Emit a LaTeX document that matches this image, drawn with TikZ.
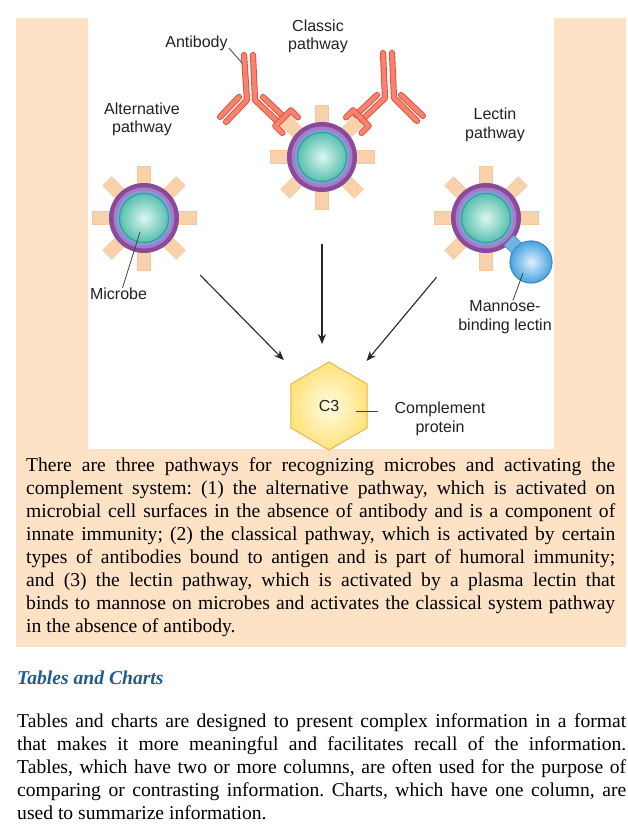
\documentclass[tikz,border=0pt]{standalone}
\usepackage{fontspec}
\setmainfont{Liberation Serif}
\setsansfont{Liberation Sans}
\usetikzlibrary{arrows.meta,shapes.geometric,calc}
\frenchspacing

\definecolor{peach}{HTML}{FDE2C5}
\definecolor{spikefill}{HTML}{F9D1AA}
\definecolor{spikeedge}{HTML}{F4C79E}
\definecolor{mpurple}{HTML}{8A4A9C}
\definecolor{mlilac}{HTML}{A77CC6}
\definecolor{mblue}{HTML}{7A9FDC}
\definecolor{tealin}{HTML}{DDF6F0}
\definecolor{tealout}{HTML}{58C0AF}
\definecolor{tealedge}{HTML}{2F9E91}
\definecolor{abfill}{HTML}{F7826E}
\definecolor{abedge}{HTML}{E04C3A}
\definecolor{mblin}{HTML}{DDF0FC}
\definecolor{mblout}{HTML}{4AA2DE}
\definecolor{mbledge}{HTML}{3A8CCB}
\definecolor{hexin}{HTML}{FFFBE2}
\definecolor{hexout}{HTML}{FFE37C}
\definecolor{hexedge}{HTML}{EBB24E}
\definecolor{headblue}{HTML}{1E5D8F}
\definecolor{labelgray}{HTML}{222222}

\tikzset{
  lbl/.style={font=\sffamily\fontsize{16}{18.5}\selectfont, text=labelgray, align=center, inner sep=0pt},
  leader/.style={draw=black!75, line width=0.8pt},
  arr/.style={-{Stealth[length=10pt,width=8pt]}, draw=black!85, line width=1.1pt},
  hub/.style={circle, minimum size=104pt, inner sep=0pt},
  ab/.style={draw=abedge, double=abfill, double distance=4.4pt, line width=0.9pt, line cap=round, line join=round},
  hexa/.style={regular polygon, regular polygon sides=6, shape border rotate=30, minimum size=88pt,
    inner sep=0pt, outer sep=0pt, draw=hexedge, line width=0.9pt, shade, inner color=hexin, outer color=hexout,
    font=\sffamily\fontsize{16}{18}\selectfont, text=labelgray},
  mbl/.style={circle, minimum size=42pt, inner sep=0pt, draw=mbledge, line width=0.9pt, shade, inner color=mblin, outer color=mblout},
  body/.style={inner sep=0pt, text width=589pt, align=justify, font=\fontsize{19.6}{23}\selectfont},
  microbe/.pic={
    \foreach \a in {0,45,...,315}
      \filldraw[fill=spikefill, draw=spikeedge, line width=0.4pt, rotate=\a] (26pt,-6.5pt) rectangle (52pt,6.5pt);
    \fill[mpurple] (0,0) circle (35pt);
    \fill[mlilac] (0,0) circle (30.5pt);
    \fill[mblue] (0,0) circle (27.5pt);
    \shade[inner color=tealin, outer color=tealout] (0,0) circle (24.5pt);
    \draw[tealedge, line width=1pt] (0,0) circle (24.5pt);
  }
}

\begin{document}
\begin{tikzpicture}[x=1pt, y=-1pt]
  \useasboundingbox (0,0) rectangle (628,826);
  % panels
  \fill[peach] (16,18) rectangle (626,647);
  \fill[white] (88,0) rectangle (554,449);

  % microbes
  \node[hub] (alt) at (144,218) {};
  \node[hub] (cls) at (322,157) {};
  \node[hub] (lec) at (486,218) {};
  \pic at (alt) {microbe};
  \pic at (cls) {microbe};
  \pic at (lec) {microbe};

  % mannose-binding lectin
  \node[mbl] (mbl) at (531,262) {};
  \draw[draw=mbledge, double=mblout!80, double distance=13pt, line width=0.8pt] ($(lec)!32pt!(mbl)$) -- (mbl.center);
  \node[mbl] at (mbl) {};

  % antibodies
  \begin{scope}
    \draw[ab] (239,97) -- (220,117);
    \draw[ab] (244,55) -- (247,100) -- (226,122);
    \draw[ab] (263,97) -- (284,117);
    \draw[ab] (253,55) -- (255,100) -- (278,122);
    \draw[ab] (282.4,133) -- (275.3,125.9) -- (290.9,110.3) -- (297.9,117.4);
    \draw[ab] (401,95) -- (423,116);
    \draw[ab] (392,53) -- (394,98) -- (417,121);
    \draw[ab] (377,95) -- (356,115);
    \draw[ab] (383,53) -- (385,98) -- (362,120);
    \draw[ab] (361.6,133) -- (368.7,125.9) -- (353.1,110.3) -- (346.1,117.4);
  \end{scope}

  % C3
  \node[hexa] (c3) at (329,406) {C3};

  % labels
  \node[lbl] (abtxt) at (196.5,43) {Antibody};
  \node[lbl] (clstxt) at (318,36.5) {Classic\\pathway};
  \node[lbl] (alttxt) at (142,119.5) {Alternative\\pathway};
  \node[lbl] (lectxt) at (495,125) {Lectin\\pathway};
  \node[lbl] (mictxt) at (118.5,294) {Microbe};
  \node[lbl] (mbltxt) at (505,317) {Mannose-\\binding lectin};
  \node[lbl] (comptxt) at (440,419) {Complement\\protein};

  \coordinate (abpt) at (242,63);
  \coordinate (micpt) at (140,232);
  \coordinate (mblpt) at (523,273);
  \draw[leader] ([shift={(1pt,-5pt)}]abtxt.east) -- (abpt);
  \draw[leader] (micpt) -- ([xshift=4pt]mictxt.north);
  \draw[leader] (mblpt) -- ([xshift=8pt]mbltxt.north);
  \draw[leader] ([shift={(27pt,-5pt)}]c3.center) -- +(22pt,0);

  % arrows
  \draw[arr, shorten <=28pt, shorten >=25pt] (alt) -- (c3);
  \draw[arr, shorten <=35pt, shorten >=18pt] (cls) -- (cls |- c3.north);
  \draw[arr, shorten <=25pt, shorten >=20pt] (lec) -- (c3);

  % text
  \node[body, anchor=north west] (cap) at (26,457) {There are three pathways for recognizing microbes and activating the\linebreak
    complement system: (1) the alternative pathway, which is activated on\linebreak
    microbial cell surfaces in the absence of antibody and is a component of\linebreak
    innate immunity; (2) the classical pathway, which is activated by certain\linebreak
    types of antibodies bound to antigen and is part of humoral immunity;\linebreak
    and (3) the lectin pathway, which is activated by a plasma lectin that\linebreak
    binds to mannose on microbes and activates the classical system pathway\linebreak
    in the absence of antibody.};
  \node[font=\bfseries\itshape\fontsize{19.6}{23}\selectfont, text=headblue, anchor=west, inner sep=0pt] (title) at (17,678) {Tables and Charts};
  \node[body, text width=609pt, anchor=north west] (para) at (17,713) {Tables and charts are designed to present complex information in a format\linebreak
    that makes it more meaningful and facilitates recall of the information.\linebreak
    Tables, which have two or more columns, are often used for the purpose of\linebreak
    comparing or contrasting information. Charts, which have one column, are\linebreak
    used to summarize information.};
\end{tikzpicture}
\end{document}
